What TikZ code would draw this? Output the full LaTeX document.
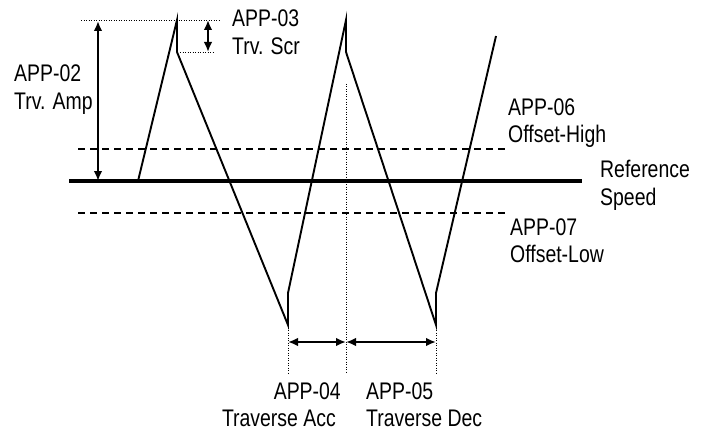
\documentclass[tikz,border=0pt]{standalone}
\usepackage{fontspec}
\setmainfont{Liberation Sans}[FakeStretch=0.81]
\usetikzlibrary{arrows.meta}
\begin{document}
\begin{tikzpicture}[x=1pt,y=-1pt,
  lbl/.style={inner sep=0pt,font=\fontsize{24}{28}\selectfont},
  wave/.style={line width=1.9pt,line join=miter},
  refline/.style={line width=3.2pt},
  offs/.style={line width=1.8pt,dash pattern=on 7pt off 5pt},
  dots/.style={line width=0.9pt,dash pattern=on 1pt off 1.5pt},
  dim/.style={line width=1.9pt,{Latex[length=10pt,width=8.5pt]}-{Latex[length=10pt,width=8.5pt]}}]
\useasboundingbox (0,0) rectangle (708,433);
% reference and offset lines
\coordinate (r0) at (69,181); \coordinate (r1) at (582,181);
\coordinate (h0) at (78,149); \coordinate (h1) at (507,149);
\coordinate (l0) at (78,213); \coordinate (l1) at (507,213);
\draw[offs] (h0) -- (h1);
\draw[offs] (l0) -- (l1);
\draw[refline] (r0) -- (r1);
% waveform
\coordinate (w0) at (138,181);
\coordinate (p1) at (177,20); \coordinate (p1b) at (177,52);
\coordinate (b1) at (288,325); \coordinate (b1b) at (288,293);
\coordinate (p2) at (346,20); \coordinate (p2b) at (346,52);
\coordinate (b2) at (436,325); \coordinate (b2b) at (436,293);
\coordinate (w9) at (496,36);
\draw[wave] (w0) -- (p1) -- (p1b) -- (b1) -- (b1b) -- (p2) -- (p2b) -- (b2) -- (b2b) -- (w9);
% dotted guides
\coordinate (t0) at (81,20); \coordinate (t1) at (219,20);
\coordinate (s0) at (180,52); \coordinate (s1) at (215,52);
\coordinate (v0) at (346,84); \coordinate (v1) at (346,374);
\coordinate (a1) at (288,374); \coordinate (a2) at (436,374);
\draw[dots] (t0) -- (t1);
\draw[dots] (s0) -- (s1);
\draw[dots] (v0) -- (v1);
\draw[dots] (b1) -- (a1);
\draw[dots] (b2) -- (a2);
% dimension arrows
\coordinate (m0) at (98,21); \coordinate (m1) at (98,181);
\coordinate (n0) at (208,20); \coordinate (n1) at (208,52);
\draw[dim] (m0) -- (m1);
\draw[dim] (n0) -- (n1);
\coordinate (q0) at (288,342); \coordinate (q1) at (346,342); \coordinate (q2) at (436,342);
\draw[dim] (q0) -- (q1);
\draw[dim] (q1) -- (q2);
% labels
\node[lbl,anchor=base west] (app03) at (232,27) {APP-03};
\node[lbl,anchor=base west] (scr) at (232,55) {Trv. Scr};
\node[lbl,anchor=base west] (app02) at (14,82) {APP-02};
\node[lbl,anchor=base west] (amp) at (14,110) {Trv. Amp};
\node[lbl,anchor=base west] (app06) at (508,115) {APP-06};
\node[lbl,anchor=base west] (ofh) at (508,142) {Offset-High};
\node[lbl,anchor=base west] (refa) at (600,177) {Reference};
\node[lbl,anchor=base west] (refb) at (600,205) {Speed};
\node[lbl,anchor=base west] (app07) at (510,235) {APP-07};
\node[lbl,anchor=base west] (ofl) at (510,262) {Offset-Low};
\node[lbl,anchor=base east] (app04) at (341,399) {APP-04};
\node[lbl,anchor=base east] (tacc) at (336,426) {Traverse Acc};
\node[lbl,anchor=base west] (app05) at (366,399) {APP-05};
\node[lbl,anchor=base west] (tdec) at (366,426) {Traverse Dec};
\end{tikzpicture}
\end{document}
